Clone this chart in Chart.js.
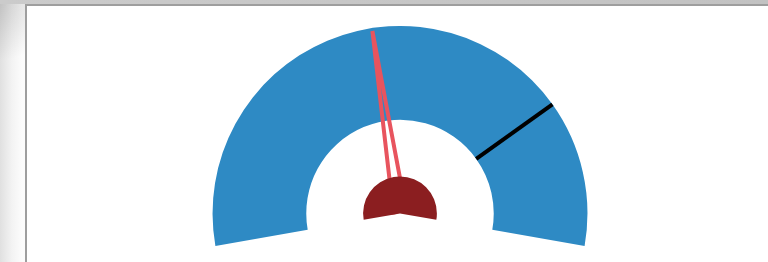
<!DOCTYPE html>
<html lang="en">
  <head>
    <meta charset="UTF-8" />
    <title>Gauge</title>
    <style>
      body {
        margin: 0;
        width: 768px;
        height: 262px;
        overflow: hidden;
        position: relative;
        background:
          radial-gradient(circle at 0 0, rgba(0, 0, 0, 0.14), rgba(0, 0, 0, 0) 60px),
          linear-gradient(to right, #e0e0e0 0, #f3f3f3 12px, #fcfcfc 22px);
      }

      .topbar {
        position: absolute;
        left: 0;
        top: 0;
        width: 100%;
        height: 4px;
        background: linear-gradient(to right, #cbcbcb, #c2c2c2);
      }

      .panel {
        position: absolute;
        left: 25px;
        top: 4px;
        width: 800px;
        height: 300px;
        background: #fff;
        border-left: 2px solid #9e9e9e;
        border-top: 2px solid #9e9e9e;
      }

      .chart-box {
        position: absolute;
        left: 173px;
        top: 20px;
        width: 400px;
        height: 220px;
      }
    </style>
  </head>
  <body>
    <div class="topbar"></div>
    <div class="panel">
      <div class="chart-box">
        <canvas id="gauge"></canvas>
      </div>
    </div>

    <script src="https://cdn.jsdelivr.net/npm/chart.js"></script>
    <script>
      // gauge range and readings
      const gaugeMin = 0;
      const gaugeMax = 100;
      const needleValue = 45.7;
      const targetValue = 77.2;

      // ring data (outer band, empty gap, hub)
      const bandData = [targetValue - gaugeMin, gaugeMax - targetValue];
      const gapData = [needleValue - gaugeMin, gaugeMax - needleValue];
      const hubData = [gaugeMax - gaugeMin];

      // draws the target line and the needle after the gap ring, before the hub
      const gaugeOverlay = {
        id: "gaugeOverlay",
        afterDatasetDraw(chart, args) {
          if (args.index !== 1) return;
          const ctx = chart.ctx;
          const band = chart.getDatasetMeta(0).data[0];
          const pointer = chart.getDatasetMeta(1).data[0];
          const cx = band.x;
          const cy = band.y;

          // target marker
          const a = band.endAngle;
          ctx.save();
          ctx.strokeStyle = "#000";
          ctx.lineWidth = 4;
          ctx.beginPath();
          ctx.moveTo(cx + Math.cos(a) * band.innerRadius, cy + Math.sin(a) * band.innerRadius);
          ctx.lineTo(cx + Math.cos(a) * band.outerRadius, cy + Math.sin(a) * band.outerRadius);
          ctx.stroke();

          // needle
          const n = pointer.endAngle;
          const tipR = band.outerRadius - 3;
          const half = 6.5;
          const px = -Math.sin(n);
          const py = Math.cos(n);
          ctx.strokeStyle = "#e8545e";
          ctx.lineWidth = 4;
          ctx.beginPath();
          ctx.moveTo(cx + px * half, cy + py * half);
          ctx.lineTo(cx + Math.cos(n) * tipR, cy + Math.sin(n) * tipR);
          ctx.lineTo(cx - px * half, cy - py * half);
          ctx.stroke();
          ctx.restore();
        },
      };

      new Chart(document.getElementById("gauge"), {
        type: "doughnut",
        data: {
          datasets: [
            {
              data: bandData,
              backgroundColor: ["#2e8ac4", "#2e8ac4"],
              weight: 94,
              order: 3,
            },
            {
              data: gapData,
              backgroundColor: ["rgba(0,0,0,0)", "rgba(0,0,0,0)"],
              weight: 57,
              order: 2,
            },
            {
              data: hubData,
              backgroundColor: ["#8b1e20"],
              weight: 37,
              order: 1,
            },
          ],
        },
        options: {
          responsive: true,
          maintainAspectRatio: false,
          animation: false,
          cutout: 0,
          rotation: -100,
          circumference: 200,
          borderWidth: 0,
          hoverOffset: 0,
          offset: 0,
          events: [],
          plugins: {
            legend: { display: false },
            tooltip: { enabled: false },
          },
        },
        plugins: [gaugeOverlay],
      });
    </script>
  </body>
</html>
